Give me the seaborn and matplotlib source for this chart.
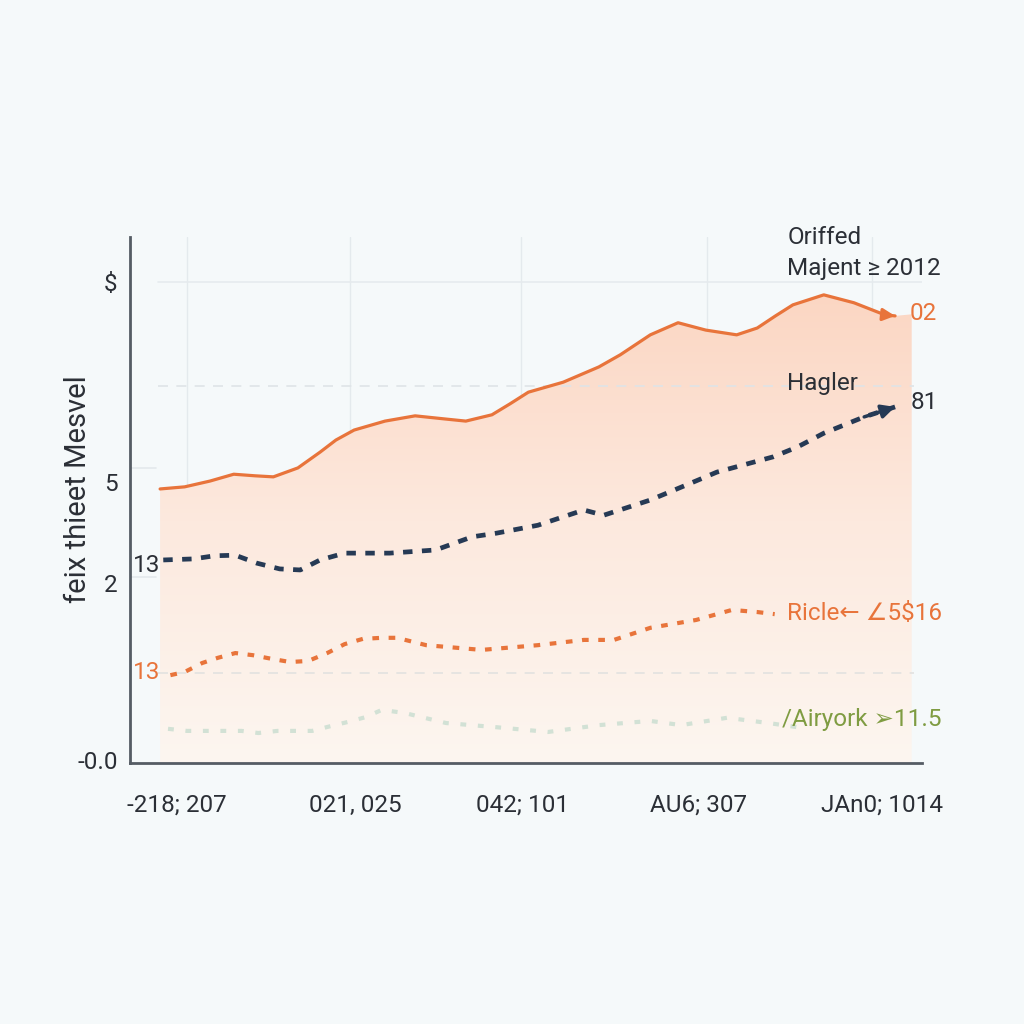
import numpy as np
import pandas as pd
import matplotlib
matplotlib.use("Agg")
import matplotlib.pyplot as plt
import seaborn as sns
from matplotlib.colors import LinearSegmentedColormap
from matplotlib.patches import PathPatch
from matplotlib.path import Path
from matplotlib.transforms import ScaledTranslation

# ---------------- data (chart units) ----------------
orange_x = [3.8, 6.9, 10.1, 13.1, 15.8, 18.1, 21.2, 24.0, 26.0, 28.3, 32.2, 36.0, 39.8, 42.4, 45.7,
            48.0, 50.3, 54.7, 59.2, 61.9, 65.7, 69.2, 72.7, 76.6, 79.2, 81.5, 83.7, 87.6, 91.4, 95.3, 96.6]
orange_y = [52.1, 52.5, 53.6, 54.9, 54.6, 54.4, 56.1, 59.1, 61.4, 63.3, 65.0, 66.0, 65.4, 65.0, 66.2,
            68.3, 70.5, 72.4, 75.3, 77.6, 81.4, 83.7, 82.3, 81.4, 82.7, 85.0, 87.1, 89.0, 87.5, 85.2, 85.0]

navy_x = [4.2, 8.0, 10.7, 13.3, 16.0, 18.9, 21.5, 24.0, 27.1, 32.8, 38.6, 43.2, 46.3, 51.5,
          57.3, 59.8, 65.7, 70.8, 74.1, 81.2, 84.3, 87.6, 92.7, 96.6]
navy_y = [38.6, 38.8, 39.4, 39.5, 38.0, 36.9, 36.7, 38.6, 39.9, 39.9, 40.5, 43.0, 43.7, 45.2,
          48.1, 47.1, 50.0, 53.2, 55.3, 58.2, 60.1, 62.7, 65.8, 67.7]

ricle_x = [5.1, 6.9, 9.1, 11.1, 13.3, 15.5, 17.9, 20.2, 22.5, 24.9, 27.1, 29.4, 31.8, 33.7,
           37.4, 44.4, 51.5, 57.3, 61.1, 65.7, 71.5, 76.0, 79.2, 81.4]
ricle_y = [16.7, 17.3, 19.0, 20.0, 20.9, 20.5, 19.8, 19.2, 19.4, 20.9, 22.6, 23.6, 23.8, 23.8,
           22.4, 21.5, 22.4, 23.4, 23.4, 25.7, 27.2, 29.1, 28.7, 28.3]

airy_x = [4.8, 7.2, 9.5, 11.7, 14.1, 16.2, 18.6, 20.8, 23.0, 25.3, 27.5, 29.7, 31.8, 34.7,
          39.9, 46.3, 52.8, 59.2, 65.7, 69.6, 75.4, 80.6, 84.3]
airy_y = [6.5, 6.1, 6.1, 6.1, 6.1, 5.7, 6.1, 6.1, 6.1, 7.0, 7.8, 8.7, 10.1, 9.5,
          7.6, 6.8, 5.9, 7.2, 8.0, 7.2, 8.6, 7.6, 6.8]

# right edge of the shaded area
fill_end_x = 98.7
fill_end_y = 85.3

x_ticks = [7.2, 27.8, 49.4, 72.9, 93.7]
x_labels = ["-218; 207", "021, 025", "042; 101", "AU6; 307", "JAn0; 1014"]
y_ticks = [91.4, 53.4, 34.2, 0.6]
y_labels = ["$", "5", "2", "-0.0"]
y_title = "feix thieet Mesvel"

# ---------------- style ----------------
BG = "#f5f9fa"
ORANGE = "#e8743b"
NAVY = "#263a55"
GREEN = "#d2e1d5"
OLIVE = "#7f9c42"
TEXT = "#2b2f36"
SPINE = "#555c64"

sns.set_theme(style="white")
plt.rcParams["font.family"] = ["Roboto", "DejaVu Sans"]
plt.rcParams["lines.solid_joinstyle"] = "round"
plt.rcParams["lines.solid_capstyle"] = "round"

fig = plt.figure(figsize=(10.24, 10.24), dpi=100, facecolor=BG)
ax = fig.add_axes([130 / 1024, 261 / 1024, 792 / 1024, 526 / 1024])
ax.set_facecolor(BG)

# gradient fill under the main line
grad = np.linspace(0, 1, 256).reshape(-1, 1)
cmap = LinearSegmentedColormap.from_list("peach", ["#fcf6f0", "#fde9de", "#fbd5c1"])
fx = [orange_x[0]] + orange_x + [fill_end_x, fill_end_x, orange_x[0]]
fy = [0] + orange_y + [fill_end_y, 0, 0]
verts = list(zip(fx, fy))
patch = PathPatch(Path(verts, closed=True), transform=ax.transData,
                  facecolor="none", edgecolor="none")
ax.add_patch(patch)
im = ax.imshow(grad, extent=[orange_x[0], fill_end_x, 0, 92], origin="lower",
               aspect="auto", cmap=cmap, zorder=1, interpolation="bicubic")
im.set_clip_path(patch)

# grid lines
for xt in x_ticks:
    ax.axvline(xt, color="#e4eaed", lw=1.0, zorder=0.5)
ax.plot([3.5, 100], [91.4, 91.4], color="#e6ebee", lw=1.2, zorder=0.5)
ax.plot([3.5, 99.0], [71.7, 71.7], color="#dfe4e7", lw=1.2, ls=(0, (6, 5)), zorder=1.5)
ax.plot([3.5, 99.0], [17.1, 17.1], color="#e2e2e0", lw=1.2, ls=(0, (6, 5)), zorder=1.5)
ax.plot([0, 3.3], [56.1, 56.1], color="#e4e9ec", lw=1.2, zorder=0.5)
ax.plot([0, 3.3], [35.4, 35.4], color="#e4e9ec", lw=1.2, zorder=0.5)

# series
df_o = pd.DataFrame({"x": orange_x, "y": orange_y})
df_n = pd.DataFrame({"x": navy_x, "y": navy_y})
df_r = pd.DataFrame({"x": ricle_x, "y": ricle_y})
df_a = pd.DataFrame({"x": airy_x, "y": airy_y})

sns.lineplot(data=df_a, x="x", y="y", ax=ax, color=GREEN, lw=3.0, sort=False, zorder=3)
ax.lines[-1].set_linestyle((0, (1.4, 2.8)))
sns.lineplot(data=df_r, x="x", y="y", ax=ax, color=ORANGE, lw=3.0, sort=False, zorder=3)
ax.lines[-1].set_linestyle((0, (1.6, 2.3)))
sns.lineplot(data=df_n, x="x", y="y", ax=ax, color=NAVY, lw=3.4, sort=False, zorder=4)
ax.lines[-1].set_linestyle((0, (2.0, 2.0)))
sns.lineplot(data=df_o, x="x", y="y", ax=ax, color=ORANGE, lw=2.3, sort=False, zorder=5)

# arrowheads
ax.annotate("", xy=(orange_x[-1], orange_y[-1]), xytext=(orange_x[-2], orange_y[-2]),
            arrowprops=dict(arrowstyle="-|>", color=ORANGE, lw=2.3, mutation_scale=18,
                            shrinkA=0, shrinkB=0), zorder=6)
ax.annotate("", xy=(navy_x[-1], navy_y[-1]), xytext=(navy_x[-2], navy_y[-2]),
            arrowprops=dict(arrowstyle="-|>", color=NAVY, lw=2.5, mutation_scale=20,
                            shrinkA=0, shrinkB=0), zorder=6)

# annotations
FS = 17.5
ax.text(83.0, 100.0, "Oriffed", fontsize=FS, color=TEXT, ha="left", va="center")
ax.text(83.0, 94.1, "Majent \u2265 2012", fontsize=FS, color=TEXT, ha="left", va="center")
ax.text(98.4, 85.4, "02", fontsize=FS, color=ORANGE, ha="left", va="center")
ax.text(83.0, 72.2, "Hagler", fontsize=FS, color=TEXT, ha="left", va="center")
ax.text(98.6, 68.6, "81", fontsize=FS, color=TEXT, ha="left", va="center")
ax.text(3.8, 37.5, "13", fontsize=FS, color=TEXT, ha="right", va="center")
ax.text(3.8, 17.3, "13", fontsize=FS, color=ORANGE, ha="right", va="center")
ax.text(83.0, 28.5, "Ricle\u2190 \u22205$16", fontsize=FS, color=ORANGE, ha="left", va="center",
        family=["Roboto", "DejaVu Sans"])
ax.text(82.3, 8.2, "/Airyork \u27a211.5", fontsize=FS, color=OLIVE, ha="left", va="center",
        family=["Roboto", "DejaVu Sans"])

# axes
ax.set_xlim(0, 100)
ax.set_ylim(0, 100)
ax.set_xticks(x_ticks)
ax.set_xticklabels(x_labels)
ax.set_yticks(y_ticks)
ax.set_yticklabels(y_labels)
ax.set_xlabel("")
ax.set_ylabel(y_title, fontsize=21, color=TEXT)
ax.yaxis.set_label_coords(-0.048, 0.52)

for s in ["top", "right"]:
    ax.spines[s].set_visible(False)
for s in ["left", "bottom"]:
    ax.spines[s].set_color(SPINE)
    ax.spines[s].set_linewidth(2.0)

ax.tick_params(axis="x", direction="out", length=9, width=2, color=SPINE,
               labelsize=FS, labelcolor=TEXT, pad=13)
ax.tick_params(axis="y", direction="in", length=11, width=2, color=SPINE,
               labelsize=FS, labelcolor=TEXT, pad=9)
for i, t in enumerate(ax.yaxis.get_major_ticks()):
    if i != 0:
        t.tick1line.set_markersize(0)

# small horizontal offsets of x tick labels (pixels)
label_shift = [-10, 5, 1, -9, 10]
for lab, dx in zip(ax.get_xticklabels(), label_shift):
    lab.set_transform(lab.get_transform() + ScaledTranslation(dx / 100, 0, fig.dpi_scale_trans))

fig.savefig("out.png", dpi=100, facecolor=BG)
